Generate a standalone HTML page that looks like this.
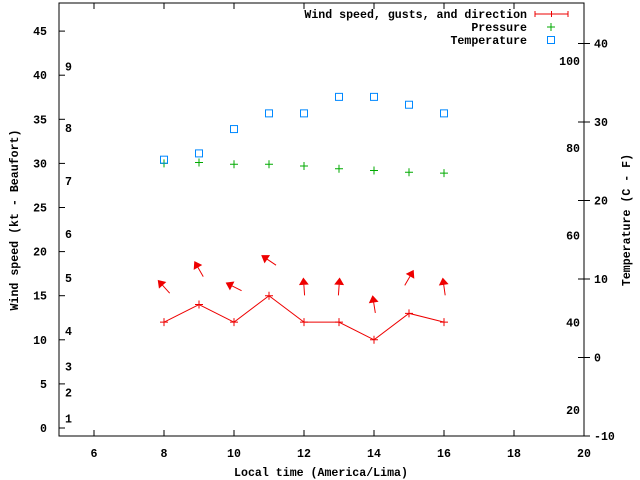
<!DOCTYPE html>
<html><head><meta charset="utf-8"><style>
body{margin:0;background:#fff}
svg{display:block}
text{font-family:"Liberation Mono",monospace;font-weight:bold;font-size:11.6px;fill:#000}
</style></head><body>
<svg id="c" width="640" height="480" xmlns="http://www.w3.org/2000/svg">
<rect x="59" y="3" width="525" height="433" fill="none" stroke="#000" stroke-width="1"/>
<g id="g"></g>
<text x="18" y="220" transform="rotate(-90 18 220)" text-anchor="middle">Wind speed (kt - Beaufort)</text>
<text x="630" y="220" transform="rotate(-90 630 220)" text-anchor="middle">Temperature (C - F)</text>
<text x="321" y="476" text-anchor="middle">Local time (America/Lima)</text>
<g>
<text x="527" y="18" text-anchor="end">Wind speed, gusts, and direction</text>
<path d="M535 14h33M535 11v6M568 11v6M551.5 11v6" stroke="#e00" fill="none"/>
<text x="527" y="31" text-anchor="end">Pressure</text>
<path d="M547 27h8M551 23v8" stroke="#0a0"/>
<text x="527" y="44" text-anchor="end">Temperature</text>
<rect x="547.5" y="36.5" width="7" height="7" fill="none" stroke="#08f"/>
</g>
</svg>
<script>
const hours=[8,9,10,11,12,13,14,15,16];
const windSpeed=[12,14,12,15,12,12,10,13,12];
const gusts=[16,18,16,19,16,16,14,17,16];
const windDir=[318,330,297,304,356,4,351,30,352];
const pressure=[30.0,30.1,29.9,29.9,29.7,29.4,29.2,29.0,28.9];
const temperature=[25.2,26.0,29.1,31.1,31.1,33.2,33.2,32.2,31.1];
const xTicks=[6,8,10,12,14,16,18,20];
const yTicks=[0,5,10,15,20,25,30,35,40,45];
const y2Ticks=[-10,0,10,20,30,40];
const beaufort=[[1,1.1],[2,4],[3,7],[4,11],[5,17],[6,22],[7,28],[8,34],[9,41]];
const fahr=[20,40,60,80,100];
const X=v=>59+(v-5)*35, Y=v=>428-v*8.82, T=c=>357.5-c*7.85;
const g=document.getElementById('g');const NS='http://www.w3.org/2000/svg';
function mk(t,a,txt){const e=document.createElementNS(NS,t);for(const k in a)e.setAttribute(k,a[k]);if(txt!==undefined)e.textContent=txt;g.appendChild(e);return e;}
xTicks.forEach(v=>{const x=X(v);
const l=mk('path',{d:`M${x} 436v-6M${x} 3v6`,stroke:'#000'});


const t=mk('text',{x:x,y:457,'text-anchor':'middle'},v);

});
yTicks.forEach(v=>{const y=Y(v);
const l=mk('path',{d:`M59 ${y}h6`,stroke:'#000'});


const t=mk('text',{x:47,y:y+4,'text-anchor':'end'},v);

});
y2Ticks.forEach(v=>{const y=T(v);
const l=mk('path',{d:`M584 ${y}h-6M584 ${y}h6`,stroke:'#000'});


const t=mk('text',{x:594,y:y+4},v);

});
beaufort.forEach(b=>{const t=mk('text',{x:65,y:Y(b[1])+4},b[0]);

});
fahr.forEach(f=>{const t=mk('text',{x:580,y:T((f-32)/1.8)+4,'text-anchor':'end'},f);

});
const line=mk('polyline',{points:hours.map((h,i)=>X(h)+','+Y(windSpeed[i])).join(' '),fill:'none',stroke:'#e00'});


hours.forEach((h,i)=>{const x=X(h),y=Y(windSpeed[i]);
const m=mk('path',{d:`M${x-4} ${y}h8M${x} ${y-4}v8`,stroke:'#e00'});


const cx=X(h),cy=Y(gusts[i]),a=windDir[i]*Math.PI/180,L=8.5;
const dx=Math.sin(a)*L,dy=-Math.cos(a)*L;
const hx=cx+dx,hy=cy+dy,tx=cx-dx,ty=cy-dy;
const px=-dy/L,py=dx/L,bx=hx-dx*0.7,by=hy-dy*0.7;
const ar=mk('path',{d:`M${tx} ${ty}L${hx} ${hy}M${hx} ${hy}L${bx+px*4} ${by+py*4}L${bx-px*4} ${by-py*4}Z`,stroke:'#e00',fill:'#e00'});


const px2=X(h),py2=Y(pressure[i]);
const p=mk('path',{d:`M${px2-4} ${py2}h8M${px2} ${py2-4}v8`,stroke:'#0a0'});


const ty2=T(temperature[i]);
const r=mk('rect',{x:X(h)-3.5,y:ty2-3.5,width:7,height:7,fill:'none',stroke:'#08f'});

});
</script>
</body></html>
